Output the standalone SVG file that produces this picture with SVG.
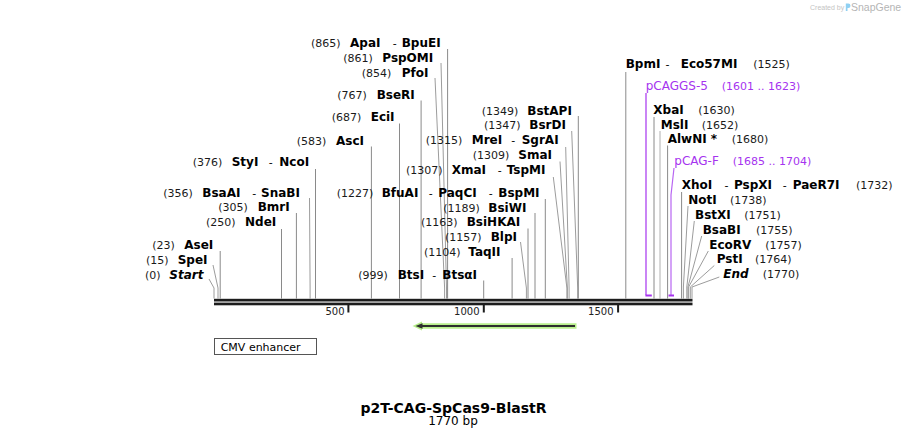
<svg xmlns="http://www.w3.org/2000/svg" width="907" height="438" viewBox="0 0 907 438">
<style>
text{font-family:"DejaVu Sans","Verdana",sans-serif}
.n{font-size:11px;fill:#1a1a1a}
.e{font-size:12px;font-weight:bold;fill:#000}
.d{font-size:11px;fill:#000}
.i{font-style:italic}
.p{fill:#a633ef}
.pn{font-size:12px}
.l{fill:none;stroke:#8a8a8a;stroke-width:1}
.s{fill:none;stroke:#9c9c9c;stroke-width:1}
.pl{fill:none;stroke:#a633ef;stroke-width:1.2}
.ax{font-size:10px;fill:#222}
</style>
<rect width="907" height="438" fill="#fff"/>

<g id="connectors">
<polyline class="s" points="209,279 214,288 214,298.5"/>
<polyline class="s" points="213,265 218,288 218,298.5"/>
<line class="l" x1="220.2" y1="251" x2="220.2" y2="298.5"/>
<line class="l" x1="281.5" y1="229" x2="281.5" y2="298.5"/>
<line class="l" x1="296.4" y1="213" x2="296.4" y2="298.5"/>
<polyline class="s" points="309.5,198 310.1,288 310.1,298.5"/>
<line class="l" x1="315.5" y1="169" x2="315.5" y2="298.5"/>
<line class="l" x1="371.4" y1="146.5" x2="371.4" y2="298.5"/>
<line class="l" x1="399.5" y1="123.5" x2="399.5" y2="298.5"/>
<line class="l" x1="421.1" y1="100.5" x2="421.1" y2="298.5"/>
<polyline class="s" points="435,78 444.6,288 444.6,298.5"/>
<polyline class="s" points="441,63 446.5,288 446.5,298.5"/>
<line class="l" x1="447.6" y1="49" x2="447.6" y2="298.5"/>
<line class="l" x1="483.7" y1="280.5" x2="483.7" y2="298.5"/>
<line class="l" x1="512.1" y1="258" x2="512.1" y2="298.5"/>
<polyline class="s" points="520.5,242 526.4,288 526.4,298.5"/>
<line class="l" x1="528" y1="228.5" x2="528" y2="298.5"/>
<line class="l" x1="535" y1="213" x2="535" y2="298.5"/>
<line class="l" x1="545.3" y1="199" x2="545.3" y2="298.5"/>
<polyline class="s" points="553.3,177 566.9,288 566.9,298.5"/>
<polyline class="s" points="560,161.5 567.4,288 567.4,298.5"/>
<polyline class="s" points="565.7,147 569.1,288 569.1,298.5"/>
<polyline class="s" points="571.7,131 577.7,288 577.7,298.5"/>
<line class="l" x1="578.3" y1="116" x2="578.3" y2="298.5"/>
<line class="l" x1="625.8" y1="72" x2="625.8" y2="298.5"/>
<line class="pl" x1="646" y1="93" x2="646" y2="295"/>
<line x1="645.4" y1="295.5" x2="651.8" y2="295.5" stroke="#a633ef" stroke-width="2"/>
<line class="l" x1="654" y1="117" x2="654" y2="298.5"/>
<line class="s" x1="660" y1="131" x2="660" y2="298.5" style="stroke:#b0b0b0"/>
<line class="l" x1="667.6" y1="145.5" x2="667.6" y2="298.5"/>
<polyline class="pl" points="674,168 671,195 671,295" style="stroke:#b866f2"/>
<line x1="668.5" y1="295.5" x2="674" y2="295.5" stroke="#a633ef" stroke-width="2"/>
<line class="l" x1="681.6" y1="192" x2="681.6" y2="298.5"/>
<polyline class="s" points="688,206 683.4,287 683.4,298.5"/>
<polyline class="s" points="694.3,221 686.8,287 686.8,298.5"/>
<polyline class="s" points="701.7,236 687.9,287 687.9,298.5"/>
<polyline class="s" points="708.3,251 688.6,287 688.6,298.5"/>
<polyline class="s" points="714.3,265.5 690.3,287 690.3,298.5"/>
<polyline class="s" points="719.3,277 692,287 692,298.5"/>
</g>

<g id="axis">
<rect x="214" y="298.8" width="478.5" height="2.7" fill="#1c1c1c"/>
<rect x="214" y="302.6" width="478.5" height="2.7" fill="#1c1c1c"/>
<rect x="347.4" y="305" width="2" height="7.5" fill="#1c1c1c"/>
<rect x="482.8" y="305" width="2" height="7.5" fill="#1c1c1c"/>
<rect x="617.1" y="305" width="2" height="7.5" fill="#1c1c1c"/>
<text class="ax" x="344.5" y="315" text-anchor="end">500</text>
<text class="ax" x="479.5" y="315" text-anchor="end">1000</text>
<text class="ax" x="613.5" y="315" text-anchor="end">1500</text>
</g>

<g id="feature-arrow">
<line x1="420" y1="326" x2="576.5" y2="326" stroke="#b8ef8c" stroke-width="5.5"/>
<polygon points="412.5,326 422,321.5 422,330.5" fill="#b8ef8c"/>
<line x1="421" y1="326" x2="575" y2="326" stroke="#2e2e2e" stroke-width="1.8"/>
<polygon points="415.5,326 422.5,323.3 422.5,328.7" fill="#2e2e2e"/>
</g>

<g id="cmv-enhancer">
<rect x="214.5" y="338.5" width="102" height="16" fill="#fff" stroke="#555" stroke-width="1"/>
<text class="d" x="220.7" y="350.5">CMV enhancer</text>
</g>

<g id="site-0"><text class="n" x="145" y="278.7">(0)</text><text class="e i" x="169.3" y="278.7">Start</text></g>
<g id="site-15"><text class="n" x="146" y="264">(15)</text><text class="e" x="177.7" y="264">SpeI</text></g>
<g id="site-23"><text class="n" x="152.3" y="249.3">(23)</text><text class="e" x="184.3" y="249.3">AseI</text></g>
<g id="site-250"><text class="n" x="206" y="226">(250)</text><text class="e" x="245" y="226">NdeI</text></g>
<g id="site-305"><text class="n" x="218.3" y="211">(305)</text><text class="e" x="257.7" y="211">BmrI</text></g>
<g id="site-356"><text class="n" x="163.3" y="196.7">(356)</text><text class="e" x="202.3" y="196.7">BsaAI</text><text class="d" x="252.3" y="196.7">-</text><text class="e" x="261" y="196.7">SnaBI</text></g>
<g id="site-376"><text class="n" x="192.7" y="165.7">(376)</text><text class="e" x="231.7" y="165.7">StyI</text><text class="d" x="268.8" y="165.7">-</text><text class="e" x="279.3" y="165.7">NcoI</text></g>
<g id="site-583"><text class="n" x="296.7" y="145">(583)</text><text class="e" x="336" y="145">AscI</text></g>
<g id="site-687"><text class="n" x="331.7" y="121">(687)</text><text class="e" x="370.7" y="121">EciI</text></g>
<g id="site-767"><text class="n" x="337.3" y="98.5">(767)</text><text class="e" x="376.7" y="98.5">BseRI</text></g>
<g id="site-854"><text class="n" x="361.7" y="76.5">(854)</text><text class="e" x="401.7" y="76.5">PfoI</text></g>
<g id="site-861"><text class="n" x="343.3" y="61.5">(861)</text><text class="e" x="382.3" y="61.5">PspOMI</text></g>
<g id="site-865"><text class="n" x="311" y="46.5">(865)</text><text class="e" x="350" y="46.5">ApaI</text><text class="d" x="392.8" y="46.5">-</text><text class="e" x="401.7" y="46.5">BpuEI</text></g>

<g id="site-999"><text class="n" x="358.3" y="279">(999)</text><text class="e" x="397.7" y="279">BtsI</text><text class="d" x="432.3" y="279">-</text><text class="e" x="442.3" y="279">BtsαI</text></g>
<g id="site-1104"><text class="n" x="424" y="255.5">(1104)</text><text class="e" x="468.3" y="255.5">TaqII</text></g>
<g id="site-1157"><text class="n" x="445" y="240.5">(1157)</text><text class="e" x="490.7" y="240.5">BlpI</text></g>
<g id="site-1163"><text class="n" x="421" y="226">(1163)</text><text class="e" x="466.7" y="226">BsiHKAI</text></g>
<g id="site-1189"><text class="n" x="443.3" y="211.5">(1189)</text><text class="e" x="488.3" y="211.5">BsiWI</text></g>
<g id="site-1227"><text class="n" x="336.7" y="196.7">(1227)</text><text class="e" x="381.7" y="196.7">BfuAI</text><text class="d" x="428.8" y="196.7">-</text><text class="e" x="438.3" y="196.7">PaqCI</text><text class="d" x="488.8" y="196.7">-</text><text class="e" x="498.3" y="196.7">BspMI</text></g>
<g id="site-1307"><text class="n" x="406" y="174">(1307)</text><text class="e" x="451.7" y="174">XmaI</text><text class="d" x="497.8" y="174">-</text><text class="e" x="506.7" y="174">TspMI</text></g>
<g id="site-1309"><text class="n" x="472.7" y="159">(1309)</text><text class="e" x="518.3" y="159">SmaI</text></g>
<g id="site-1315"><text class="n" x="425.7" y="144">(1315)</text><text class="e" x="471.7" y="144">MreI</text><text class="d" x="511.3" y="144">-</text><text class="e" x="521.7" y="144">SgrAI</text></g>
<g id="site-1347"><text class="n" x="484" y="129">(1347)</text><text class="e" x="529.3" y="129">BsrDI</text></g>
<g id="site-1349"><text class="n" x="481.7" y="114.5">(1349)</text><text class="e" x="527.3" y="114.5">BstAPI</text></g>

<g id="site-1525"><text class="e" x="625.7" y="68.3">BpmI</text><text class="d" x="665.5" y="68.3">-</text><text class="e" x="680.7" y="68.3">Eco57MI</text><text class="n" x="753.3" y="68.3">(1525)</text></g>
<g id="primer-pCAGGS-5"><text class="pn p" x="645.7" y="90">pCAGGS-5</text><text class="n p" x="721.7" y="90">(1601 .. 1623)</text></g>
<g id="site-1630"><text class="e" x="653.3" y="114.3">XbaI</text><text class="n" x="698.3" y="114.3">(1630)</text></g>
<g id="site-1652"><text class="e" x="660.7" y="129">MslI</text><text class="n" x="701.7" y="129">(1652)</text></g>
<g id="site-1680"><text class="e" x="667.7" y="143.3">AlwNI *</text><text class="n" x="731.7" y="143.3">(1680)</text></g>
<g id="primer-pCAG-F"><text class="pn p" x="674.3" y="165">pCAG-F</text><text class="n p" x="732.7" y="165">(1685 .. 1704)</text></g>
<g id="site-1732"><text class="e" x="681.7" y="189">XhoI</text><text class="d" x="724.5" y="189">-</text><text class="e" x="734" y="189">PspXI</text><text class="d" x="782.8" y="189">-</text><text class="e" x="792.7" y="189">PaeR7I</text><text class="n" x="856" y="189">(1732)</text></g>
<g id="site-1738"><text class="e" x="688.3" y="203.7">NotI</text><text class="n" x="730" y="203.7">(1738)</text></g>
<g id="site-1751"><text class="e" x="695" y="218.7">BstXI</text><text class="n" x="744.3" y="218.7">(1751)</text></g>
<g id="site-1755"><text class="e" x="702.7" y="233.7">BsaBI</text><text class="n" x="756" y="233.7">(1755)</text></g>
<g id="site-1757"><text class="e" x="709.3" y="248.7">EcoRV</text><text class="n" x="765.3" y="248.7">(1757)</text></g>
<g id="site-1764"><text class="e" x="716.7" y="263.3">PstI</text><text class="n" x="755" y="263.3">(1764)</text></g>
<g id="site-1770"><text class="e i" x="723.3" y="278.3">End</text><text class="n" x="762.7" y="278.3">(1770)</text></g>

<g id="title">
<text x="453.5" y="412.5" text-anchor="middle" style="font-size:14px;font-weight:bold;fill:#000">p2T-CAG-SpCas9-BlastR</text>
<text x="453" y="425" text-anchor="middle" style="font-size:12px;fill:#000">1770 bp</text>
</g>

<g id="watermark">
<text x="810" y="10" style="font-family:'Liberation Sans',Arial,sans-serif;font-size:7px;fill:#c4c4c4">Created by</text>
<path d="M845.8,3.5 h2.5 a2.2,2.2 0 0 1 0,4.4 h-0.8 v3 h-1.7 z" fill="#8fd0f2"/>
<text x="851" y="10.5" style="font-family:'Liberation Sans',Arial,sans-serif;font-size:10.5px;fill:#b5b5b5">SnapGene</text>
</g>
</svg>
